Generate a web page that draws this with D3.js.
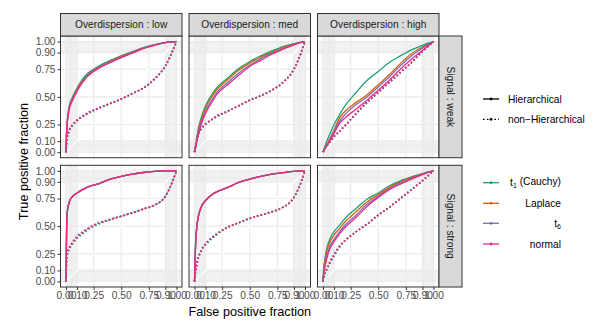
<!DOCTYPE html>
<html>
<head>
<meta charset="utf-8">
<script src="https://cdnjs.cloudflare.com/ajax/libs/d3/7.8.5/d3.min.js"></script>
<style>
  body { margin: 0; background: #fff; }
  svg { font-family: "Liberation Sans", Arial, sans-serif; }
</style>
</head>
<body>
<div id="chart"></div>
<script>
// ROC curves, faceted by overdispersion (columns) and signal (rows)

var fpr = [0, 0.005, 0.01, 0.03, 0.06, 0.1, 0.15, 0.2, 0.3, 0.4, 0.5, 0.6, 0.7, 0.8, 0.9, 0.95, 1];
var overdispersion = ["low", "med", "high"];
var signal = ["weak", "strong"];
var distributions = ["t1 (Cauchy)", "Laplace", "t6", "normal"];
var colours = ["#1B9E77", "#D95F02", "#7570B3", "#E7298A"];
var breaks = [0, 0.1, 0.25, 0.5, 0.75, 0.9, 1];

// true positive fraction at each fpr, one row per distribution (t1, Laplace, t6, normal)
var lowWeakH = [
  [0, .18, .27, .42, .50, .58, .66, .715, .78, .83, .87, .91, .945, .972, .992, .998, 1],
  [0, .17, .26, .41, .49, .57, .65, .705, .77, .82, .865, .905, .942, .97, .991, .997, 1],
  [0, .17, .25, .40, .48, .56, .64, .70, .765, .815, .86, .90, .94, .968, .99, .997, 1],
  [0, .17, .25, .39, .47, .55, .63, .69, .76, .81, .855, .895, .935, .965, .99, .997, 1]
];
var lowWeakNH = [
  [0, .08, .12, .19, .24, .28, .32, .35, .40, .44, .48, .53, .58, .66, .78, .88, 1],
  [0, .09, .13, .20, .25, .29, .32, .35, .40, .44, .48, .53, .58, .66, .78, .88, 1],
  [0, .09, .13, .20, .25, .29, .32, .35, .40, .44, .48, .53, .58, .66, .78, .88, 1],
  [0, .09, .13, .20, .25, .29, .33, .36, .40, .44, .48, .53, .58, .66, .78, .88, 1]
];
var medWeakH = [
  [0, .03, .05, .19, .31, .42, .51, .58, .67, .755, .82, .87, .915, .955, .98, .992, 1],
  [0, .03, .05, .17, .29, .40, .49, .56, .655, .74, .805, .86, .905, .945, .977, .99, 1],
  [0, .025, .045, .155, .27, .37, .46, .535, .63, .715, .785, .845, .895, .937, .973, .989, 1],
  [0, .02, .04, .14, .25, .35, .44, .52, .61, .695, .775, .83, .885, .93, .97, .988, 1]
];
var medWeakNH = [
  [0, .04, .07, .15, .21, .25, .29, .32, .37, .42, .47, .51, .56, .63, .75, .86, 1],
  [0, .04, .07, .15, .21, .25, .29, .32, .37, .42, .47, .51, .56, .63, .75, .86, 1],
  [0, .04, .07, .15, .21, .25, .29, .32, .37, .42, .47, .51, .56, .63, .75, .86, 1],
  [0, .04, .07, .15, .21, .26, .29, .33, .37, .42, .47, .51, .56, .63, .75, .86, 1]
];
var highWeakH = [
  [0, .015, .03, .09, .16, .25, .34, .42, .54, .65, .73, .81, .87, .925, .965, .985, 1],
  [0, .01, .02, .06, .12, .20, .31, .37, .45, .52, .61, .70, .80, .89, .95, .975, 1],
  [0, .01, .02, .055, .11, .19, .28, .34, .43, .50, .59, .68, .78, .87, .94, .972, 1],
  [0, .01, .02, .05, .10, .17, .26, .31, .39, .47, .56, .65, .75, .84, .92, .96, 1]
];
var highWeakNH = [
  [0, .01, .02, .05, .09, .14, .19, .24, .35, .45, .54, .63, .72, .81, .91, .955, 1],
  [0, .01, .02, .05, .09, .14, .19, .24, .35, .45, .54, .63, .72, .81, .91, .955, 1],
  [0, .01, .02, .05, .09, .14, .19, .24, .35, .45, .54, .63, .72, .81, .91, .955, 1],
  [0, .01, .02, .05, .09, .14, .19, .24, .35, .45, .54, .63, .72, .81, .91, .955, 1]
];
var lowStrongH = [
  [0, .45, .62, .72, .77, .80, .83, .855, .885, .925, .95, .97, .985, .995, .999, 1, 1],
  [0, .45, .62, .72, .77, .80, .83, .855, .885, .925, .95, .97, .985, .995, .999, 1, 1],
  [0, .45, .62, .72, .77, .80, .83, .855, .885, .925, .95, .97, .985, .995, .999, 1, 1],
  [0, .44, .61, .72, .77, .80, .83, .855, .885, .925, .95, .97, .985, .995, .999, 1, 1]
];
var lowStrongNH = [
  [0, .18, .23, .29, .34, .39, .43, .47, .52, .56, .59, .62, .655, .69, .77, .87, 1],
  [0, .19, .24, .30, .35, .40, .44, .48, .53, .56, .59, .62, .655, .69, .77, .87, 1],
  [0, .19, .24, .30, .35, .40, .44, .48, .53, .56, .59, .62, .655, .69, .77, .87, 1],
  [0, .20, .25, .31, .36, .41, .45, .48, .53, .56, .59, .62, .655, .69, .77, .87, 1]
];
var medStrongH = [
  [0, .21, .35, .57, .675, .735, .78, .81, .85, .895, .925, .95, .97, .983, .995, .999, 1],
  [0, .20, .34, .56, .67, .73, .78, .81, .85, .895, .925, .95, .97, .983, .995, .999, 1],
  [0, .20, .34, .56, .67, .73, .78, .81, .85, .895, .925, .95, .97, .983, .995, .999, 1],
  [0, .20, .34, .56, .67, .73, .78, .81, .85, .895, .925, .95, .97, .983, .995, .999, 1]
];
var medStrongNH = [
  [0, .05, .09, .19, .27, .33, .38, .42, .49, .53, .57, .60, .63, .67, .76, .86, 1],
  [0, .06, .10, .20, .28, .34, .39, .43, .49, .53, .57, .60, .63, .67, .76, .86, 1],
  [0, .06, .10, .20, .28, .34, .39, .43, .49, .53, .57, .60, .63, .67, .76, .86, 1],
  [0, .06, .10, .20, .28, .34, .39, .43, .49, .53, .57, .60, .63, .67, .76, .86, 1]
];
var highStrongH = [
  [0, .10, .15, .28, .38, .45, .51, .57, .66, .745, .80, .865, .91, .945, .975, .99, 1],
  [0, .08, .13, .25, .35, .42, .48, .54, .63, .72, .785, .85, .90, .94, .972, .988, 1],
  [0, .06, .10, .21, .31, .38, .45, .51, .60, .70, .77, .84, .89, .932, .968, .986, 1],
  [0, .05, .09, .19, .29, .36, .43, .49, .58, .68, .76, .83, .88, .925, .965, .985, 1]
];
var highStrongNH = [
  [0, .03, .05, .10, .16, .23, .31, .37, .45, .52, .60, .67, .75, .83, .91, .955, 1],
  [0, .03, .05, .10, .17, .24, .32, .37, .45, .52, .60, .67, .75, .83, .91, .955, 1],
  [0, .03, .05, .10, .17, .24, .32, .37, .45, .52, .60, .67, .75, .83, .91, .955, 1],
  [0, .03, .05, .10, .17, .24, .32, .37, .45, .52, .60, .67, .75, .83, .91, .955, 1]
];

var panelData = {
  "weak":   { "low": [lowWeakH, lowWeakNH],     "med": [medWeakH, medWeakNH],     "high": [highWeakH, highWeakNH] },
  "strong": { "low": [lowStrongH, lowStrongNH], "med": [medStrongH, medStrongNH], "high": [highStrongH, highStrongNH] }
};

var svgWidth = 602, svgHeight = 336;
var panelW = 121.5, panelH = 121.7;
var panelLeft = [60.5, 189, 317.5];
var panelTop = [36, 165.3];
var stripH = 22.5, stripW = 23;

var x = d3.scaleLinear().domain([-0.05, 1.05]).range([0, panelW]);
var y = d3.scaleLinear().domain([-0.05, 1.05]).range([panelH, 0]);

var minorBreaks = d3.range(0, 0.1001, 0.01).concat(d3.range(0.9, 1.0001, 0.01));

var rocLine = d3.line()
  .x(function(d) { return x(d[0]); })
  .y(function(d) { return y(d[1]); })
  .curve(d3.curveMonotoneX);

var svg = d3.select("#chart").append("svg")
  .attr("width", svgWidth)
  .attr("height", svgHeight);

signal.forEach(function(sig, r) {
  overdispersion.forEach(function(od, c) {
    var g = svg.append("g")
      .attr("transform", "translate(" + panelLeft[c] + "," + panelTop[r] + ")");

    g.append("rect").attr("width", panelW).attr("height", panelH).attr("fill", "#fff");

    // minor grid (dense, makes the grey bands)
    g.selectAll(".vmin").data(minorBreaks).enter().append("line")
      .attr("x1", function(d) { return x(d); }).attr("x2", function(d) { return x(d); })
      .attr("y1", 0).attr("y2", panelH)
      .attr("stroke", "#ebebeb").attr("stroke-width", 0.9);
    g.selectAll(".hmin").data(minorBreaks).enter().append("line")
      .attr("y1", function(d) { return y(d); }).attr("y2", function(d) { return y(d); })
      .attr("x1", 0).attr("x2", panelW)
      .attr("stroke", "#ebebeb").attr("stroke-width", 0.9);
    // major grid
    g.selectAll(".vmaj").data(breaks).enter().append("line")
      .attr("x1", function(d) { return x(d); }).attr("x2", function(d) { return x(d); })
      .attr("y1", 0).attr("y2", panelH)
      .attr("stroke", "#ebebeb").attr("stroke-width", 1.2);
    g.selectAll(".hmaj").data(breaks).enter().append("line")
      .attr("y1", function(d) { return y(d); }).attr("y2", function(d) { return y(d); })
      .attr("x1", 0).attr("x2", panelW)
      .attr("stroke", "#ebebeb").attr("stroke-width", 1.2);

    // diagonal guide in background colour
    g.append("line")
      .attr("x1", x(-0.05)).attr("y1", y(-0.05))
      .attr("x2", x(1.05)).attr("y2", y(1.05))
      .attr("stroke", "#fff").attr("stroke-width", 1.2);

    var sets = panelData[sig][od];
    // non-hierarchical (dotted) then hierarchical (solid)
    [1, 0].forEach(function(k) {
      sets[k].forEach(function(tpr, i) {
        var pts = fpr.map(function(f, j) { return [f, tpr[j]]; });
        g.append("path")
          .datum(pts)
          .attr("d", rocLine)
          .attr("fill", "none")
          .attr("stroke", colours[i])
          .attr("stroke-width", k === 0 ? 1.3 : 1.6)
          .attr("stroke-dasharray", k === 0 ? null : "1.6,2.2");
      });
    });

    g.append("rect").attr("width", panelW).attr("height", panelH)
      .attr("fill", "none").attr("stroke", "#333").attr("stroke-width", 1);

    // axes
    if (c === 0) {
      var ya = g.append("g").call(d3.axisLeft(y).tickValues(breaks).tickFormat(d3.format(".2f")).tickSize(3).tickPadding(2));
      ya.select(".domain").remove();
      ya.selectAll("line").attr("stroke", "#333");
      ya.selectAll("text").attr("fill", "#4d4d4d").style("font-size", "10.2px");
    }
    if (r === 1) {
      var xa = g.append("g").attr("transform", "translate(0," + panelH + ")")
        .call(d3.axisBottom(x).tickValues(breaks).tickFormat(d3.format(".2f")).tickSize(3).tickPadding(2));
      xa.select(".domain").remove();
      xa.selectAll("line").attr("stroke", "#333");
      xa.selectAll("text").attr("fill", "#4d4d4d").style("font-size", "10.2px");
    }

    // top strips
    if (r === 0) {
      g.append("rect").attr("x", 0).attr("y", -stripH).attr("width", panelW).attr("height", stripH)
        .attr("fill", "#d9d9d9").attr("stroke", "#333").attr("stroke-width", 1);
      g.append("text").attr("x", panelW / 2).attr("y", -stripH / 2).attr("dy", "0.35em")
        .attr("text-anchor", "middle").attr("fill", "#1a1a1a").style("font-size", "10.2px")
        .text("Overdispersion : " + od);
    }
    // right strips
    if (c === 2) {
      g.append("rect").attr("x", panelW).attr("y", 0).attr("width", stripW).attr("height", panelH)
        .attr("fill", "#d9d9d9").attr("stroke", "#333").attr("stroke-width", 1);
      g.append("text")
        .attr("transform", "translate(" + (panelW + stripW / 2) + "," + (panelH / 2) + ") rotate(90)")
        .attr("dy", "0.35em").attr("text-anchor", "middle").attr("fill", "#1a1a1a").style("font-size", "10.2px")
        .text("Signal : " + sig);
    }
  });
});

// axis titles
svg.append("text")
  .attr("x", (panelLeft[0] + panelLeft[2] + panelW) / 2).attr("y", 316)
  .attr("text-anchor", "middle").attr("fill", "#000").style("font-size", "12.7px")
  .text("False positive fraction");
svg.append("text")
  .attr("transform", "translate(28," + (panelTop[0] + panelTop[1] + panelH) / 2 + ") rotate(-90)")
  .attr("text-anchor", "middle").attr("fill", "#000").style("font-size", "12.7px")
  .text("True positive fraction");

// legends
var keyX0 = 483, keyX1 = 499;
var typeLabels = ["Hierarchical", "non\u2212Hierarchical"];
var typeY = [99, 119.3];
typeLabels.forEach(function(lab, i) {
  svg.append("line").attr("x1", keyX0).attr("x2", keyX1).attr("y1", typeY[i]).attr("y2", typeY[i])
    .attr("stroke", "#000").attr("stroke-width", 1.3)
    .attr("stroke-dasharray", i === 0 ? null : "1.6,2.2");
  svg.append("circle").attr("cx", (keyX0 + keyX1) / 2).attr("cy", typeY[i]).attr("r", 1.4).attr("fill", "#000");
  svg.append("text").attr("x", 508).attr("y", typeY[i]).attr("dy", "0.35em")
    .attr("fill", "#000").style("font-size", "10.2px").text(lab);
});

var distY = [182.7, 203.3, 223.3, 244];
distributions.forEach(function(lab, i) {
  svg.append("line").attr("x1", keyX0).attr("x2", keyX1).attr("y1", distY[i]).attr("y2", distY[i])
    .attr("stroke", colours[i]).attr("stroke-width", 1.3);
  svg.append("circle").attr("cx", (keyX0 + keyX1) / 2).attr("cy", distY[i]).attr("r", 1.4).attr("fill", colours[i]);
  var t = svg.append("text").attr("x", 561).attr("y", distY[i]).attr("dy", "0.35em")
    .attr("text-anchor", "end").attr("fill", "#000").style("font-size", "10.2px");
  if (/^t\d/.test(lab)) {
    t.append("tspan").text("t");
    t.append("tspan").attr("dy", "0.25em").style("font-size", "7px").text(lab.charAt(1));
    if (lab.length > 2) t.append("tspan").attr("dy", "-0.25em").text(lab.slice(2));
  } else {
    t.text(lab);
  }
});
</script>
</body>
</html>
